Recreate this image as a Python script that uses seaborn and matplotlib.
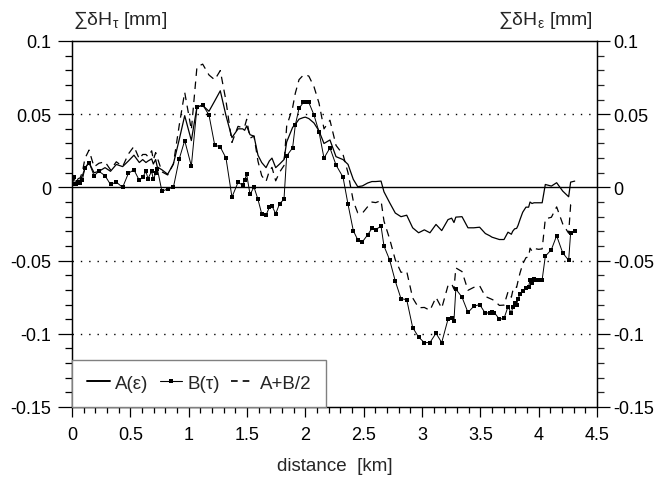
import matplotlib
matplotlib.use("Agg")
import matplotlib.pyplot as plt
from matplotlib.lines import Line2D
from matplotlib.ticker import MultipleLocator
import seaborn as sns
import pandas as pd

# ---------------- data ----------------
distance = [0.000, 0.017, 0.034, 0.054, 0.070, 0.089, 0.111, 0.146, 0.189, 0.231,
            0.283, 0.330, 0.380, 0.434, 0.483, 0.531, 0.577, 0.606, 0.634, 0.651,
            0.683, 0.697, 0.717, 0.731, 0.771, 0.820, 0.869, 0.920, 0.966, 1.023,
            1.071, 1.120, 1.174, 1.223, 1.271, 1.320, 1.371, 1.423, 1.463, 1.480,
            1.497, 1.526, 1.560, 1.594, 1.626, 1.663, 1.691, 1.714, 1.746, 1.780,
            1.817, 1.840, 1.891, 1.914, 1.946, 1.983, 2.000, 2.030, 2.074, 2.117,
            2.160, 2.211, 2.263, 2.323, 2.366, 2.411, 2.449, 2.489, 2.534, 2.571,
            2.603, 2.649, 2.674, 2.723, 2.771, 2.820, 2.869, 2.920, 2.971, 3.020,
            3.068, 3.120, 3.169, 3.223, 3.254, 3.274, 3.290, 3.343, 3.394, 3.443,
            3.494, 3.543, 3.580, 3.600, 3.620, 3.663, 3.703, 3.737, 3.766, 3.777,
            3.794, 3.811, 3.823, 3.840, 3.863, 3.891, 3.914, 3.926, 3.943, 3.960,
            3.980, 4.000, 4.030, 4.057, 4.109, 4.154, 4.206, 4.257, 4.274, 4.309]

A_eps = [0.0010, 0.0030, 0.0030, 0.0040, 0.0050, 0.0080, 0.0130, 0.0170, 0.0100, 0.0110,
         0.0135, 0.0110, 0.0157, 0.0142, 0.0180, 0.0220, 0.0170, 0.0190, 0.0170, 0.0180,
         0.0195, 0.0160, 0.0190, 0.0140, 0.0120, 0.0090, 0.0160, 0.0330, 0.0490, 0.0320,
         0.0550, 0.0560, 0.0520, 0.0590, 0.0660, 0.0490, 0.0340, 0.0400, 0.0400, 0.0390,
         0.0420, 0.0360, 0.0350, 0.0220, 0.0170, 0.0135, 0.0180, 0.0200, 0.0135, 0.0160,
         0.0190, 0.0310, 0.0410, 0.0430, 0.0466, 0.0477, 0.0480, 0.0470, 0.0440, 0.0386,
         0.0300, 0.0324, 0.0210, 0.0190, 0.0157, 0.0055, 0.0005, 0.0010, 0.0030, 0.0040,
         0.0040, 0.0043, -0.0030, -0.0105, -0.0175, -0.0200, -0.0190, -0.0276, -0.0310, -0.0290,
         -0.0310, -0.0253, -0.0295, -0.0220, -0.0210, -0.0240, -0.0203, -0.0200, -0.0276, -0.0276,
         -0.0272, -0.0315, -0.0330, -0.0340, -0.0345, -0.0356, -0.0356, -0.0306, -0.0320, -0.0300,
         -0.0283, -0.0280, -0.0260, -0.0220, -0.0170, -0.0135, -0.0135, -0.0100, -0.0110, -0.0105,
         -0.0105, -0.0105, -0.0105, 0.0020, 0.0009, 0.0032, -0.0025, -0.0064, 0.0036, 0.0043]

B_tau = [0.0020, 0.0070, 0.0020, 0.0040, 0.0030, 0.0050, 0.0135, 0.0170, 0.0080, 0.0110,
         0.0080, 0.0020, 0.0036, 0.0000, 0.0096, 0.0120, 0.0048, 0.0070, 0.0110, 0.0060,
         0.0110, 0.0055, 0.0096, 0.0128, -0.0027, -0.0010, 0.0000, 0.0197, 0.0320, 0.0146,
         0.0546, 0.0564, 0.0495, 0.0290, 0.0276, 0.0200, -0.0066, 0.0034, 0.0016, 0.0050,
         0.0090, -0.0048, 0.0002, -0.0082, -0.0180, -0.0190, -0.0137, -0.0126, -0.0180, -0.0110,
         -0.0082, 0.0215, 0.0270, 0.0425, 0.0540, 0.0580, 0.0580, 0.0580, 0.0495, 0.0380,
         0.0200, 0.0270, 0.0153, 0.0070, -0.0116, -0.0295, -0.0358, -0.0372, -0.0324, -0.0280,
         -0.0288, -0.0265, -0.0400, -0.0496, -0.0640, -0.0760, -0.0767, -0.0957, -0.1023, -0.1060,
         -0.1060, -0.0996, -0.1060, -0.0900, -0.0895, -0.0910, -0.0694, -0.0750, -0.0854, -0.0813,
         -0.0800, -0.0860, -0.0855, -0.0850, -0.0855, -0.0900, -0.0895, -0.0815, -0.0860, -0.0820,
         -0.0790, -0.0805, -0.0760, -0.0730, -0.0708, -0.0690, -0.0680, -0.0630, -0.0650, -0.0625,
         -0.0630, -0.0635, -0.0630, -0.0470, -0.0425, -0.0330, -0.0447, -0.0498, -0.0310, -0.0297]

AB_half = [0.0020, 0.0065, 0.0040, 0.0060, 0.0065, 0.0105, 0.0198, 0.0255, 0.0140, 0.0165,
           0.0175, 0.0120, 0.0175, 0.0142, 0.0228, 0.0280, 0.0194, 0.0225, 0.0225, 0.0210,
           0.0250, 0.0188, 0.0238, 0.0204, 0.0106, 0.0085, 0.0160, 0.0429, 0.0650, 0.0393,
           0.0823, 0.0842, 0.0768, 0.0735, 0.0798, 0.0590, 0.0307, 0.0417, 0.0408, 0.0415,
           0.0465, 0.0336, 0.0351, 0.0179, 0.0080, 0.0040, 0.0111, 0.0137, 0.0045, 0.0105,
           0.0149, 0.0418, 0.0545, 0.0643, 0.0736, 0.0767, 0.0770, 0.0760, 0.0688, 0.0576,
           0.0400, 0.0459, 0.0287, 0.0225, 0.0099, -0.0093, -0.0174, -0.0176, -0.0132, -0.0100,
           -0.0104, -0.0090, -0.0230, -0.0353, -0.0495, -0.0580, -0.0574, -0.0755, -0.0822, -0.0820,
           -0.0840, -0.0751, -0.0825, -0.0670, -0.0658, -0.0695, -0.0550, -0.0575, -0.0703, -0.0683,
           -0.0672, -0.0745, -0.0758, -0.0765, -0.0773, -0.0806, -0.0804, -0.0714, -0.0750, -0.0710,
           -0.0678, -0.0683, -0.0640, -0.0585, -0.0524, -0.0480, -0.0475, -0.0415, -0.0435, -0.0418,
           -0.0420, -0.0423, -0.0420, -0.0215, -0.0204, -0.0133, -0.0249, -0.0313, -0.0119, -0.0106]

series_labels = ["A(ε)", "B(τ)", "A+B/2"]
y_ticks = [-0.15, -0.10, -0.05, 0.0, 0.05, 0.10]
y_tick_labels = ["-0.15", "-0.1", "-0.05", "0", "0.05", "0.1"]
x_ticks = [0, 0.5, 1, 1.5, 2, 2.5, 3, 3.5, 4, 4.5]
x_tick_labels = ["0", "0.5", "1", "1.5", "2", "2.5", "3", "3.5", "4", "4.5"]

df = pd.DataFrame({"distance": distance, "A": A_eps, "B": B_tau, "C": AB_half})

# ---------------- style ----------------
sns.set_style("ticks")
plt.rcParams["font.family"] = ["Liberation Sans", "DejaVu Sans"]
plt.rcParams["mathtext.fontset"] = "custom"
plt.rcParams["mathtext.rm"] = "Liberation Sans"
plt.rcParams["mathtext.it"] = "Liberation Sans"
plt.rcParams["axes.unicode_minus"] = False

fig = plt.figure(figsize=(6.58, 4.81), dpi=100)
ax = fig.add_axes([72 / 658, 1 - 408 / 481, 525 / 658, 366 / 481])

# reference lines
ax.axhline(0, color="black", lw=1.0, zorder=1)
for yv in (0.05, -0.05, -0.10):
    ax.axhline(yv, color="black", lw=1.0, linestyle=(0, (1, 5)), zorder=1)

sns.lineplot(data=df, x="distance", y="A", ax=ax, color="black", lw=0.9,
             estimator=None, sort=False, zorder=3)
sns.lineplot(data=df, x="distance", y="B", ax=ax, color="black", lw=0.7,
             marker="s", markersize=3.2, markeredgewidth=0, estimator=None,
             sort=False, zorder=4)
sns.lineplot(data=df, x="distance", y="C", ax=ax, color="black", lw=0.9,
             linestyle=(0, (6, 4.5)), estimator=None, sort=False, zorder=3)

ax.set_xlim(0, 4.5)
ax.set_ylim(-0.15, 0.10)
ax.set_xticks(x_ticks, x_tick_labels)
ax.set_yticks(y_ticks, y_tick_labels)
ax.xaxis.set_minor_locator(MultipleLocator(0.1))
ax.yaxis.set_minor_locator(MultipleLocator(0.01))
ax.set_ylabel("")
ax.set_xlabel("distance  [km]", fontsize=13.5, labelpad=10)
ax.tick_params(axis="both", which="both", direction="out", colors="black",
               labelsize=13)
ax.tick_params(axis="x", which="major", length=7, width=0.9, pad=7)
ax.tick_params(axis="x", which="minor", length=4, width=0.9)
ax.tick_params(axis="y", which="major", length=10, width=0.9, pad=5)
ax.tick_params(axis="y", which="minor", length=5, width=0.9)
for sp in ax.spines.values():
    sp.set_linewidth(0.9)
    sp.set_color("black")

ax2 = ax.twinx()
ax2.set_ylim(-0.15, 0.10)
ax2.set_yticks(y_ticks, y_tick_labels)
ax2.yaxis.set_minor_locator(MultipleLocator(0.01))
ax2.tick_params(axis="y", which="major", direction="out", length=9, width=0.9,
                pad=3, labelsize=13, colors="black")
ax2.tick_params(axis="y", which="minor", direction="out", length=5, width=0.9)
for sp in ax2.spines.values():
    sp.set_linewidth(0.9)
    sp.set_color("black")

ax.text(0.002, 1.058, r"$\mathregular{∑δH_{τ}}$ [mm]", transform=ax.transAxes,
        ha="left", va="center", fontsize=14)
ax.text(0.992, 1.058, r"$\mathregular{∑δH_{ε}}$ [mm]", transform=ax.transAxes,
        ha="right", va="center", fontsize=14)

handles = [
    Line2D([], [], color="black", lw=1.4),
    Line2D([], [], color="black", lw=0.8, marker="s", markersize=3.2,
           markeredgewidth=0),
    Line2D([], [], color="black", lw=1.2, linestyle=(0, (4, 3))),
]
leg = ax2.legend(handles, series_labels, loc="lower left",
                 bbox_to_anchor=(0.0, 0.0, 0.484, 0.142), mode="expand",
                 ncol=3, fontsize=13.5, frameon=True, fancybox=False,
                 borderaxespad=0, borderpad=0.8, handlelength=1.2,
                 handletextpad=0.3, columnspacing=0.6)
leg.get_frame().set_edgecolor("#808080")
leg.get_frame().set_linewidth(1.0)
leg.get_frame().set_facecolor("white")
leg.get_frame().set_alpha(1.0)

fig.savefig("out.png", dpi=100)
